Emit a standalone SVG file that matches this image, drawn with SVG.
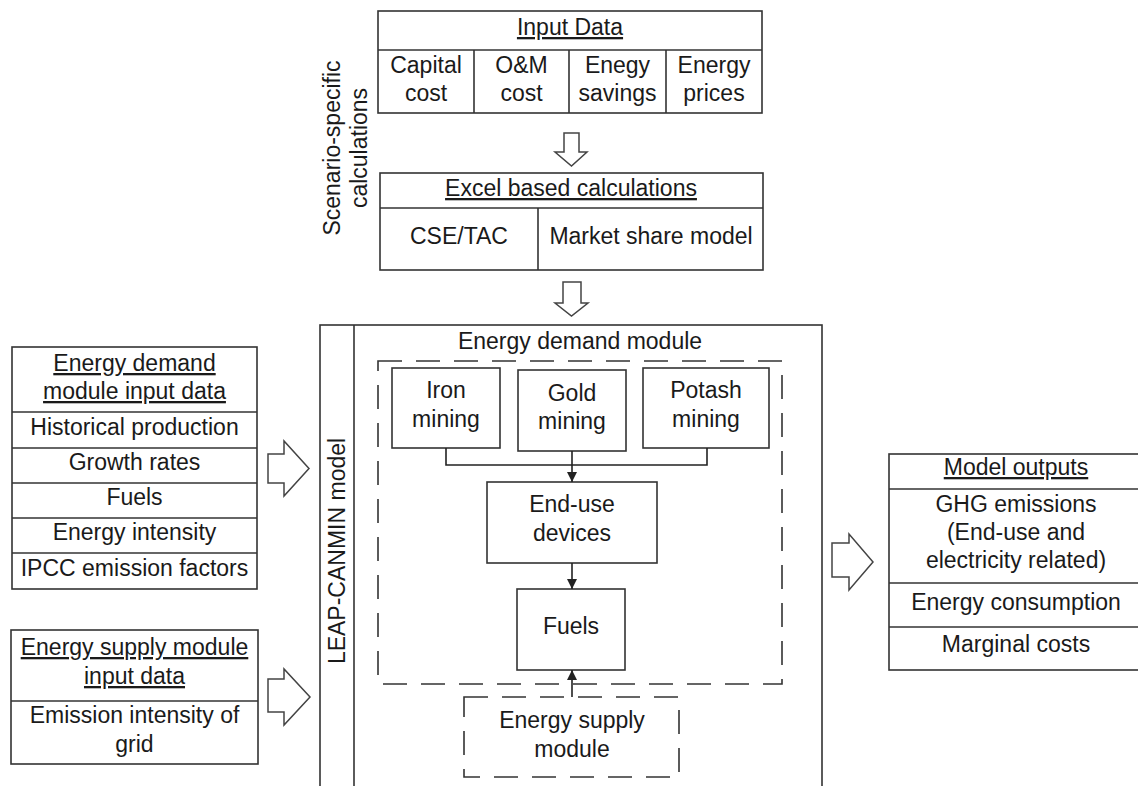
<svg xmlns="http://www.w3.org/2000/svg" width="1138" height="786" viewBox="0 0 1138 786">
<defs>
<style>
.box{fill:#fff;stroke:#333;stroke-width:1.6}
.ln{fill:none;stroke:#333;stroke-width:1.6}
.dash{fill:none;stroke:#333;stroke-width:1.6;stroke-dasharray:24 14}
.blk{fill:#fff;stroke:#444;stroke-width:1.5;stroke-linejoin:miter}
.t{font-family:"Liberation Sans",Arial,sans-serif;font-size:23px;fill:#1a1a1a;text-anchor:middle}
.u{text-decoration:underline}
.con{fill:none;stroke:#222;stroke-width:1.6}
</style>
<marker id="ah" viewBox="0 0 10 10" refX="10" refY="5" markerWidth="10" markerHeight="10" markerUnits="userSpaceOnUse" orient="auto">
<path d="M0,0 L10,5 L0,10 z" fill="#222"/>
</marker>
</defs>
<rect width="1138" height="786" fill="#fff"/>

<g id="scenario-label">
<text class="t" transform="translate(340,148) rotate(-90)">Scenario-specific</text>
<text class="t" transform="translate(367,148) rotate(-90)">calculations</text>
</g>

<g id="input-data">
<rect class="box" x="378" y="11" width="384" height="102"/>
<line class="ln" x1="378" y1="50" x2="762" y2="50"/>
<line class="ln" x1="474" y1="50" x2="474" y2="113"/>
<line class="ln" x1="569" y1="50" x2="569" y2="113"/>
<line class="ln" x1="666" y1="50" x2="666" y2="113"/>
<text class="t u" x="570" y="35">Input Data</text>
<text class="t" x="426" y="73">Capital</text>
<text class="t" x="426" y="101">cost</text>
<text class="t" x="521.5" y="73">O&amp;M</text>
<text class="t" x="521.5" y="101">cost</text>
<text class="t" x="617.5" y="73">Enegy</text>
<text class="t" x="617.5" y="101">savings</text>
<text class="t" x="714" y="73">Energy</text>
<text class="t" x="714" y="101">prices</text>
</g>

<g id="excel">
<rect class="box" x="380" y="173" width="383" height="97"/>
<line class="ln" x1="380" y1="208" x2="763" y2="208"/>
<line class="ln" x1="538" y1="208" x2="538" y2="270"/>
<text class="t u" x="571" y="196">Excel based calculations</text>
<text class="t" x="459" y="244">CSE/TAC</text>
<text class="t" x="651" y="244">Market share model</text>
</g>

<g id="demand-input">
<rect class="box" x="12" y="347" width="245" height="242"/>
<line class="ln" x1="12" y1="412" x2="257" y2="412"/>
<line class="ln" x1="12" y1="448" x2="257" y2="448"/>
<line class="ln" x1="12" y1="483" x2="257" y2="483"/>
<line class="ln" x1="12" y1="518" x2="257" y2="518"/>
<line class="ln" x1="12" y1="553" x2="257" y2="553"/>
<text class="t u" x="134.5" y="371">Energy demand</text>
<text class="t u" x="134.5" y="399">module input data</text>
<text class="t" x="134.5" y="435">Historical production</text>
<text class="t" x="134.5" y="470">Growth rates</text>
<text class="t" x="134.5" y="505">Fuels</text>
<text class="t" x="134.5" y="540">Energy intensity</text>
<text class="t" x="134.5" y="576">IPCC emission factors</text>
</g>

<g id="supply-input">
<rect class="box" x="11" y="630" width="247" height="134"/>
<line class="ln" x1="11" y1="701" x2="258" y2="701"/>
<text class="t u" x="134.5" y="655">Energy supply module</text>
<text class="t u" x="134.5" y="684">input data</text>
<text class="t" x="134.5" y="723">Emission intensity of</text>
<text class="t" x="134.5" y="752">grid</text>
</g>

<g id="leap-canmin">
<rect class="box" x="320" y="325" width="502" height="490"/>
<line class="ln" x1="354" y1="325" x2="354" y2="800"/>
<text class="t" transform="translate(345,551) rotate(-90)">LEAP-CANMIN model</text>
<text class="t" x="580" y="349">Energy demand module</text>
</g>

<g id="demand-module">
<rect class="dash" x="378" y="361" width="404" height="323"/>
</g>

<g id="iron">
<rect class="box" x="392" y="368" width="108" height="80"/>
<text class="t" x="446" y="398">Iron</text>
<text class="t" x="446" y="427">mining</text>
</g>
<g id="gold">
<rect class="box" x="518" y="370" width="108" height="81"/>
<text class="t" x="572" y="401">Gold</text>
<text class="t" x="572" y="429">mining</text>
</g>
<g id="potash">
<rect class="box" x="643" y="368" width="126" height="80"/>
<text class="t" x="706" y="398">Potash</text>
<text class="t" x="706" y="427">mining</text>
</g>
<g id="end-use">
<rect class="box" x="487" y="482" width="170" height="81"/>
<text class="t" x="572" y="512">End-use</text>
<text class="t" x="572" y="541">devices</text>
</g>
<g id="fuels">
<rect class="box" x="517" y="589" width="108" height="81"/>
<text class="t" x="571" y="634">Fuels</text>
</g>
<g id="supply-module">
<rect class="dash" x="464" y="697" width="215" height="80" fill="#fff"/>
<text class="t" x="572" y="728">Energy supply</text>
<text class="t" x="572" y="757">module</text>
</g>

<g id="model-outputs">
<rect class="box" x="889" y="454" width="256" height="216"/>
<line class="ln" x1="889" y1="489" x2="1145" y2="489"/>
<line class="ln" x1="889" y1="583" x2="1145" y2="583"/>
<line class="ln" x1="889" y1="627" x2="1145" y2="627"/>
<text class="t u" x="1016" y="475">Model outputs</text>
<text class="t" x="1016" y="512">GHG emissions</text>
<text class="t" x="1016" y="540">(End-use and</text>
<text class="t" x="1016" y="568">electricity related)</text>
<text class="t" x="1016" y="610">Energy consumption</text>
<text class="t" x="1016" y="652">Marginal costs</text>
</g>

<g id="connectors">
<polygon class="blk" points="564,133 579,133 579,152 587,152 571.5,166 555,152 564,152"/>
<polygon class="blk" points="563,282 581,282 581,303 588,303 571.5,316 555,303 563,303"/>
<polygon class="blk" points="268,454 284,454 284,441 309,468.5 284,496 284,483 268,483"/>
<polygon class="blk" points="268,679 284,679 284,669 310,697 284,725 284,712 268,712"/>
<polygon class="blk" points="832,543 849,543 849,534 873,562 849,590 849,577 832,577"/>
<path class="con" d="M446,448 V465 H707 V448"/>
<path class="con" d="M572,451 V482" marker-end="url(#ah)"/>
<path class="con" d="M572,563 V589" marker-end="url(#ah)"/>
<path class="con" d="M572,697 V670" marker-end="url(#ah)"/>
</g>
</svg>
